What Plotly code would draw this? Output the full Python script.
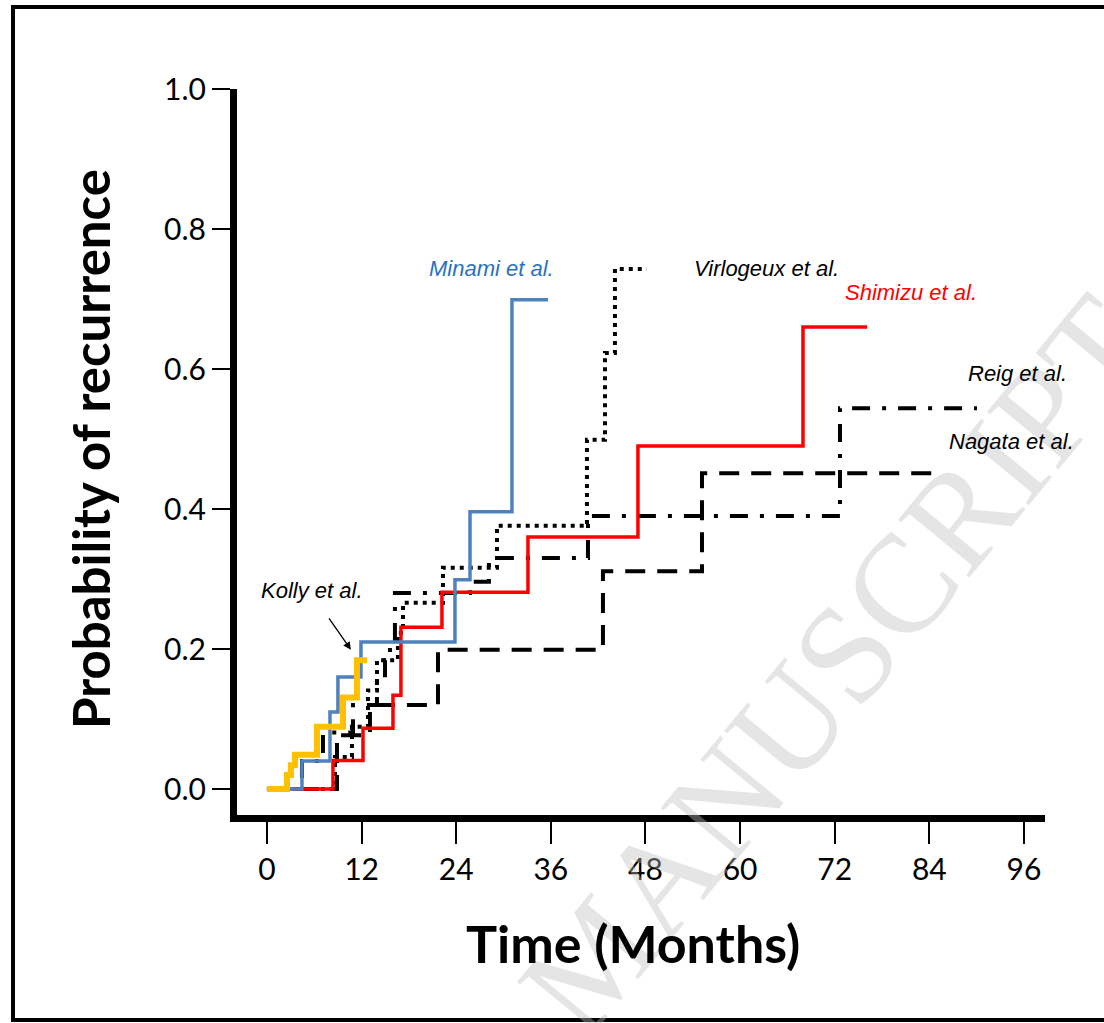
import plotly.graph_objects as go

# ---------------- data (months, cumulative probability of recurrence) ----------------
minami_t = [0, 4.44, 7.99, 9.0, 11.92, 23.84, 25.75, 31.07, 35.64]
minami_p = [0, 0.040, 0.110, 0.160, 0.210, 0.299, 0.396, 0.699, 0.699]

kolly_t = [0, 2.54, 3.04, 3.55, 6.34, 9.64, 11.41, 12.68]
kolly_p = [0, 0.020, 0.034, 0.049, 0.089, 0.131, 0.184, 0.184]

shimizu_t = [0, 8.37, 12.18, 15.98, 16.99, 22.19, 33.10, 47.05, 67.98, 76.10]
shimizu_p = [0, 0.041, 0.087, 0.134, 0.231, 0.281, 0.360, 0.490, 0.660, 0.660]

virlogeux_t = [0, 8.62, 10.78, 12.81, 13.95, 16.61, 17.25, 22.32, 29.17, 40.58, 42.87, 44.13, 48.19]
virlogeux_p = [0, 0.046, 0.089, 0.141, 0.184, 0.223, 0.266, 0.316, 0.376, 0.499, 0.623, 0.743, 0.743]

reig_t = [0, 4.44, 7.10, 10.91, 13.95, 14.97, 15.60, 16.23, 25.75, 28.15, 40.71, 72.67, 90.04]
reig_p = [0, 0.040, 0.081, 0.120, 0.156, 0.184, 0.206, 0.280, 0.296, 0.330, 0.390, 0.544, 0.544]

nagata_t = [0, 8.88, 13.06, 21.69, 42.61, 55.17, 84.97]
nagata_p = [0, 0.077, 0.120, 0.199, 0.311, 0.451, 0.451]

x_ticks = [0, 12, 24, 36, 48, 60, 72, 84, 96]
y_ticks = [0.0, 0.2, 0.4, 0.6, 0.8, 1.0]

labels = ["Minami et al.", "Virlogeux et al.", "Shimizu et al.", "Reig et al.", "Nagata et al.", "Kolly et al."]
label_t = [28.5, 63.4, 81.7, 95.2, 94.4, 5.7]
label_p = [0.744, 0.744, 0.710, 0.594, 0.497, 0.283]
label_colors = ["#2a72c0", "black", "#ff0000", "black", "black", "black"]

fig = go.Figure()

def step(t, p, color, width, dash):
    fig.add_trace(go.Scatter(x=t, y=p, mode="lines", line_shape="hv",
                             line=dict(color=color, width=width, dash=dash),
                             showlegend=False, hoverinfo="skip"))

step(nagata_t, nagata_p, "black", 4, "20px,12px")
step(reig_t, reig_p, "black", 4, "18px,12px,4px,12px")
step(virlogeux_t, virlogeux_p, "black", 4, "4px,5px")
step(shimizu_t, shimizu_p, "#ff0000", 3.5, "solid")
step(minami_t, minami_p, "#4f81bd", 3.5, "solid")
step(kolly_t, kolly_p, "#ffc000", 6, "solid")

W, H = 1104, 1023
ml, mr, mt, mb = 237, 59, 89, 208
pw, ph = W - ml - mr, H - mt - mb

def px_x(px):
    return (px - ml) / pw

def px_y(py):
    return (H - mb - py) / ph

annotations = []
# watermark
annotations.append(dict(text="MANUSCRIPT", x=px_x(835), y=px_y(665), xref="paper", yref="paper",
                        xanchor="center", yanchor="middle",
                        showarrow=False, textangle=-50.5,
                        font=dict(family="Liberation Serif", size=140, color="rgba(190,190,190,0.40)")))
for txt, t, p, c in zip(labels, label_t, label_p, label_colors):
    annotations.append(dict(text="<i>" + txt + "</i>", x=t, y=p, xref="x", yref="y", showarrow=False,
                            xanchor="center", yanchor="middle",
                            font=dict(family="Liberation Sans", size=22, color=c)))
# Kolly arrow
annotations.append(dict(text="", x=10.65, y=0.199, ax=7.74, ay=0.246, xref="x", yref="y",
                        axref="x", ayref="y", showarrow=True, arrowhead=2, arrowsize=1.2,
                        arrowwidth=1.3, arrowcolor="black"))
# axis titles
annotations.append(dict(text="<b>Time (Months)</b>", x=px_x(633), y=px_y(943), xref="paper", yref="paper",
                        xanchor="center", yanchor="middle",
                        showarrow=False, font=dict(family="Lato", size=52, color="black")))
annotations.append(dict(text="<b>Probability of recurrence</b>", x=px_x(90), y=px_y(449), xref="paper",
                        yref="paper", xanchor="center", yanchor="middle", showarrow=False, textangle=-90,
                        font=dict(family="Lato", size=51, color="black")))

shapes = [dict(type="rect", xref="paper", yref="paper", x0=px_x(13), x1=px_x(1112),
               y0=px_y(1020), y1=px_y(7), line=dict(color="black", width=4))]

fig.update_layout(
    width=W, height=H, margin=dict(l=ml, r=mr, t=mt, b=mb),
    plot_bgcolor="white", paper_bgcolor="white",
    annotations=annotations, shapes=shapes,
    xaxis=dict(range=[-3.8, 98.67], tickvals=x_ticks, ticktext=[str(v) for v in x_ticks],
               showgrid=False, zeroline=False, showline=True, linecolor="black", linewidth=7,
               ticks="outside", ticklen=22, tickwidth=2, tickcolor="black",
               tickfont=dict(family="Lato", size=30, color="black")),
    yaxis=dict(range=[-0.037, 1.0], tickvals=y_ticks, ticktext=[f"{v:.1f}" for v in y_ticks],
               showgrid=False, zeroline=False, showline=True, linecolor="black", linewidth=7,
               ticks="outside", ticklen=18, tickwidth=2, tickcolor="black",
               tickfont=dict(family="Lato", size=30, color="black")),
)

fig.write_html("out.html")
